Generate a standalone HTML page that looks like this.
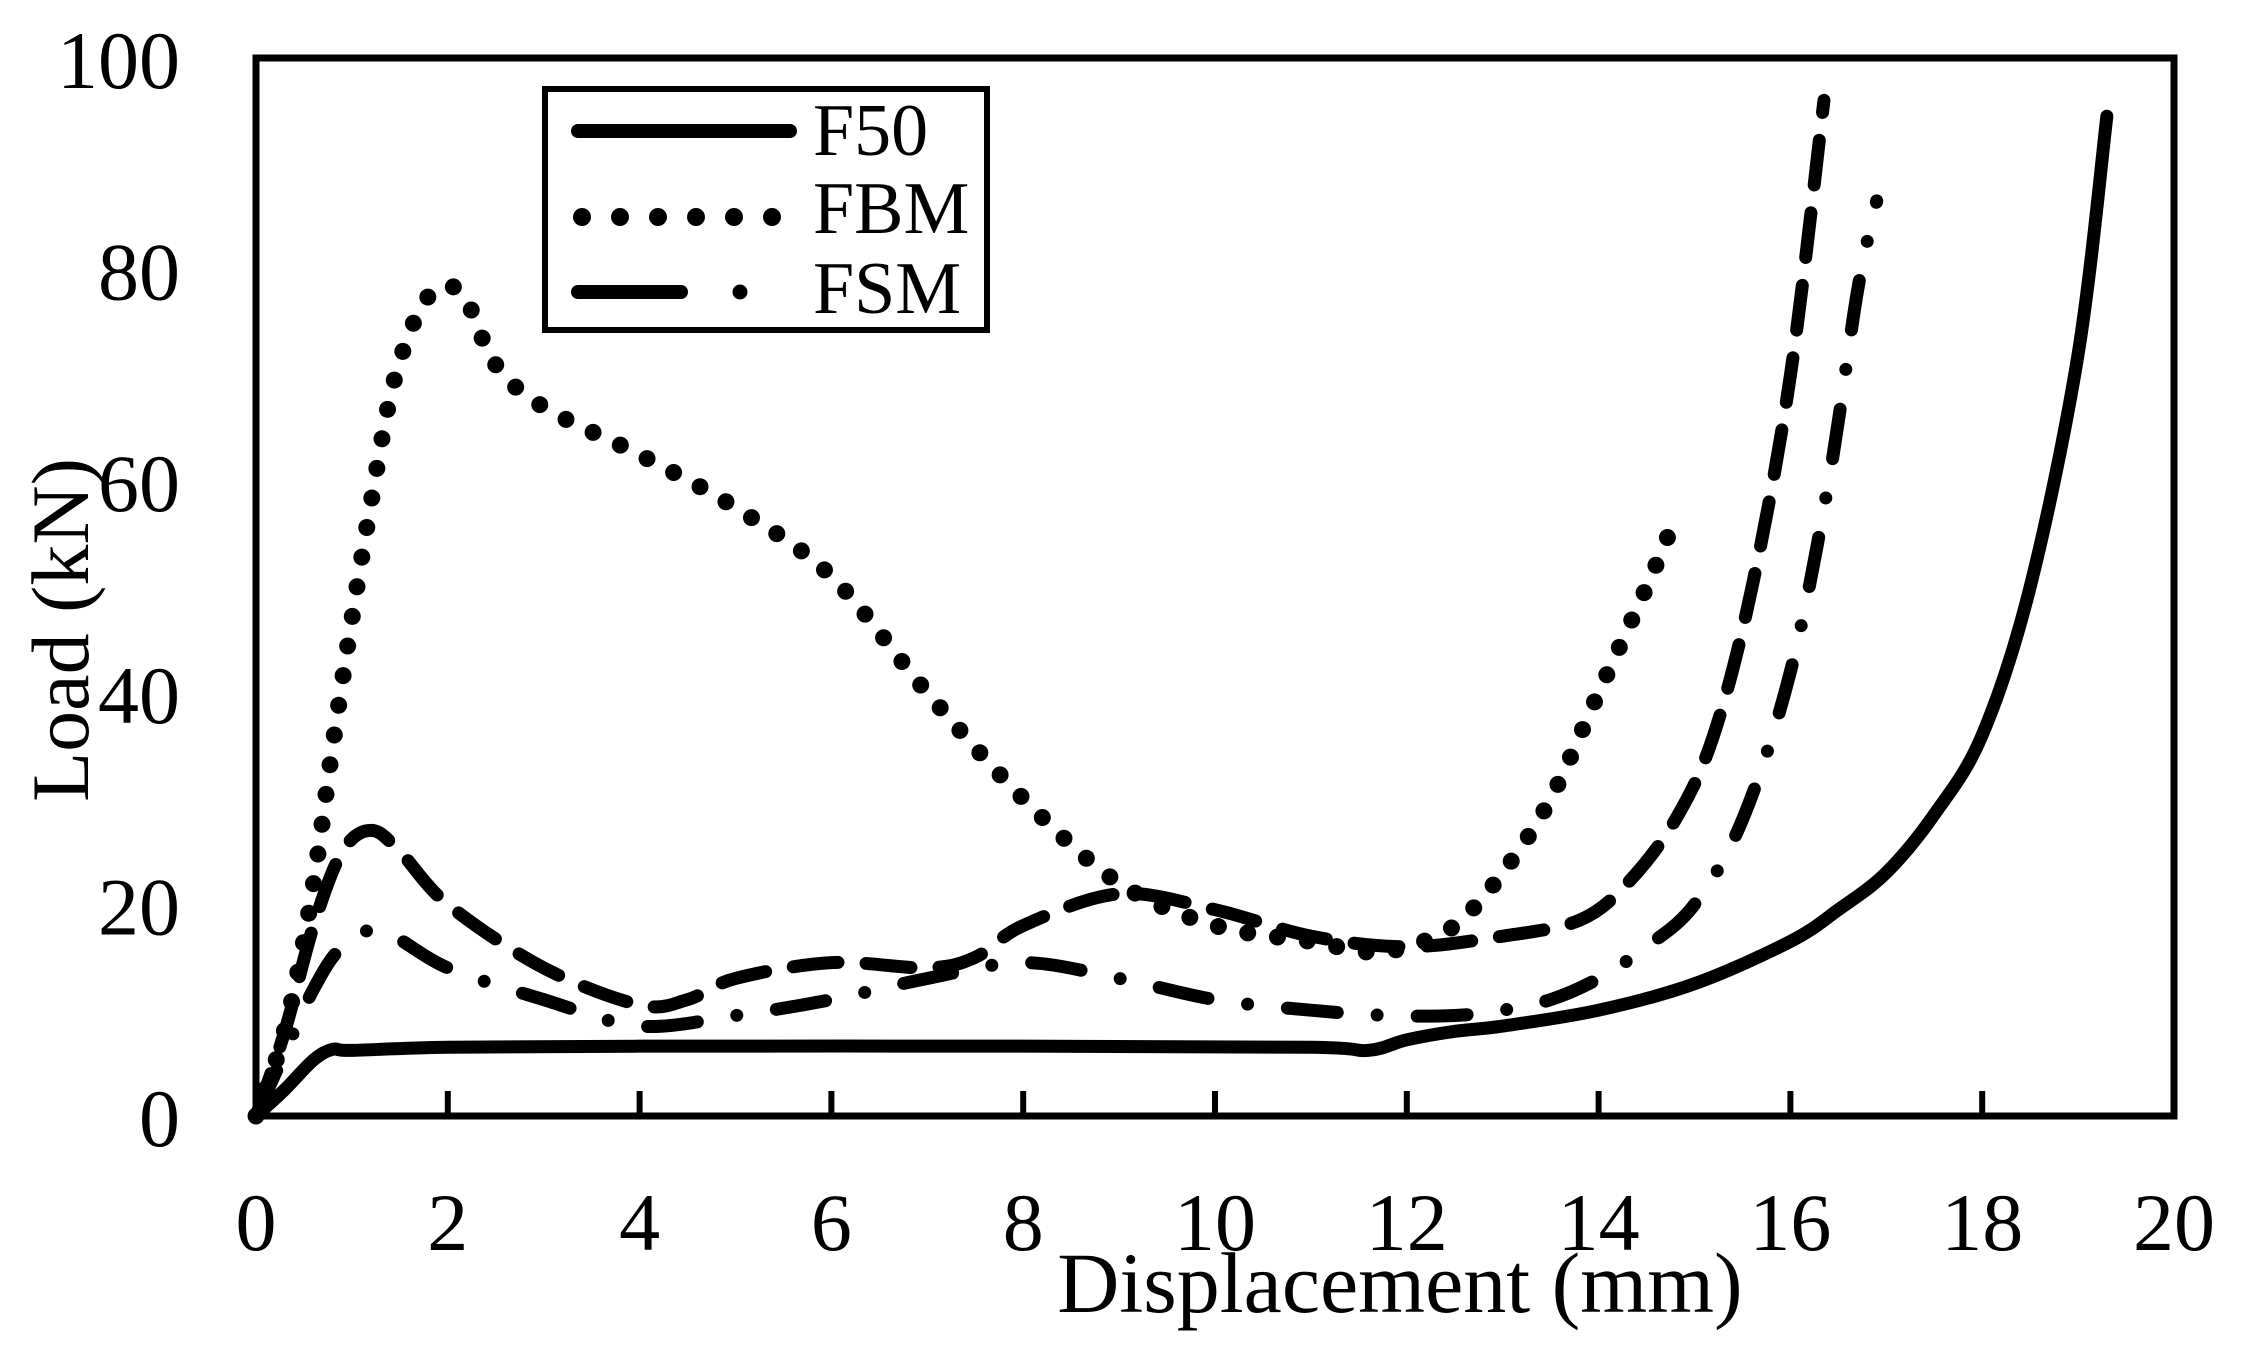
<!DOCTYPE html>
<html><head><meta charset="utf-8"><style>
html,body{margin:0;padding:0;background:#fff}
svg{display:block}
text{font-family:"Liberation Serif",serif;fill:#000}
</style></head><body>
<svg id="s" width="2242" height="1348" viewBox="0 0 2242 1348" xmlns="http://www.w3.org/2000/svg">
<rect x="0" y="0" width="2242" height="1348" fill="#fff"/>
<g id="curves"></g>
<rect x="256" y="58" width="1918" height="1058" fill="none" stroke="#000" stroke-width="7"/>
<g id="ticks" stroke="#000" stroke-width="6"></g>
<g font-size="82" text-anchor="end" id="yl"></g>
<g font-size="82" text-anchor="middle" id="xl"></g>
<text x="1400" y="1312" font-size="86" text-anchor="middle">Displacement (mm)</text>
<text transform="translate(88,630) rotate(-90)" font-size="82" text-anchor="middle">Load (kN)</text>
<rect x="545" y="89" width="442" height="241" fill="#fff" stroke="#000" stroke-width="6"/>
<line x1="578" y1="131" x2="790" y2="131" stroke="#000" stroke-width="14" stroke-linecap="round"/>
<line x1="582" y1="217" x2="800" y2="217" stroke="#000" stroke-width="18" stroke-linecap="round" stroke-dasharray="0 38"/>
<line x1="578" y1="292" x2="681" y2="292" stroke="#000" stroke-width="14" stroke-linecap="round"/>
<circle cx="740" cy="292" r="7.5" fill="#000"/>
<text x="813" y="155" font-size="74">F50</text>
<text x="813" y="233" font-size="74">FBM</text>
<text x="813" y="313" font-size="74">FSM</text>
</svg>
<script>
var X=function(x){return 256+95.9*x},Y=function(y){return 1116-10.58*y};
var ns="http://www.w3.org/2000/svg";
function path(pts){var p=pts.map(function(a){return [X(a[0]),Y(a[1])]});var d="M"+p[0][0]+","+p[0][1];
for(var i=0;i<p.length-1;i++){var p0=p[Math.max(0,i-1)],p1=p[i],p2=p[i+1],p3=p[Math.min(p.length-1,i+2)];
var c1=[p1[0]+(p2[0]-p0[0])/6,p1[1]+(p2[1]-p0[1])/6],c2=[p2[0]-(p3[0]-p1[0])/6,p2[1]-(p3[1]-p1[1])/6];
d+=" C"+c1[0]+","+c1[1]+" "+c2[0]+","+c2[1]+" "+p2[0]+","+p2[1];}return d;}
function add(pts,w,da){var e=document.createElementNS(ns,"path");e.setAttribute("d",path(pts));e.setAttribute("fill","none");e.setAttribute("stroke","#000");e.setAttribute("stroke-width",w);e.setAttribute("stroke-linecap","round");e.setAttribute("stroke-linejoin","round");if(da)e.setAttribute("stroke-dasharray",da);document.getElementById("curves").appendChild(e);}
add([[0,0],[0.3,2.5],[0.6,5.3],[0.8,6.3],[1,6.2],[2,6.5],[4,6.6],[8,6.6],[11,6.5],[11.6,6.2],[12,7.2],[12.5,8],[13,8.5],[14,10],[15,12.5],[16,16.5],[16.5,19.5],[17,23],[17.5,28.5],[18,36],[18.5,50],[19,72],[19.3,94.5]],13);
add([[0,0],[0.2,5],[0.4,12],[0.6,22],[0.8,35],[1,47],[1.2,58],[1.4,68],[1.6,74],[1.8,77.5],[2,78.5],[2.2,77],[2.5,71],[3,67],[4,62.5],[5,57.5],[6,51],[7,40],[8,30],[9,22],[10,18],[11,16.5],[11.6,15.5],[12,16],[12.5,18],[13,23],[13.5,30],[14,40],[14.5,50],[14.8,56.5]],17,"0 30");
add([[0,0],[0.3,8],[0.6,18],[0.9,25],[1.2,27],[1.5,25],[2,20],[3,14],[4,10.5],[4.5,11],[5,13],[6,14.5],[7,14],[7.5,15],[8,18],[9,21],[10,19.5],[11,17],[12,16],[13,17],[13.8,18.5],[14.3,22],[14.8,28],[15.2,36],[15.6,50],[16,70],[16.35,96]],13,"45 28");
add([[0,0],[0.3,6],[0.6,12],[0.9,16],[1.3,17.5],[2,14],[3,11],[4,8.5],[5,9.5],[6,11],[7,13],[8,14.5],[9,13],[10,11],[11,10],[11.8,9.5],[12.5,9.5],[13,10],[13.5,11],[14,13],[14.5,16],[15,20],[15.5,28],[16,42],[16.4,60],[16.7,78],[16.9,86.5]],13,"50 40 0 40");
var t=document.getElementById("ticks"),yl=document.getElementById("yl"),xl=document.getElementById("xl");
for(var i=0;i<=20;i+=2){var l=document.createElementNS(ns,"line");l.setAttribute("x1",X(i));l.setAttribute("x2",X(i));l.setAttribute("y1",1116);l.setAttribute("y2",1091);t.appendChild(l);
var tx=document.createElementNS(ns,"text");tx.setAttribute("x",X(i));tx.setAttribute("y",1250);tx.textContent=i;xl.appendChild(tx);}
for(var j=0;j<=100;j+=20){var tx=document.createElementNS(ns,"text");tx.setAttribute("x",180);tx.setAttribute("y",Y(j)+30);tx.textContent=j;yl.appendChild(tx);}
</script>
</body></html>
